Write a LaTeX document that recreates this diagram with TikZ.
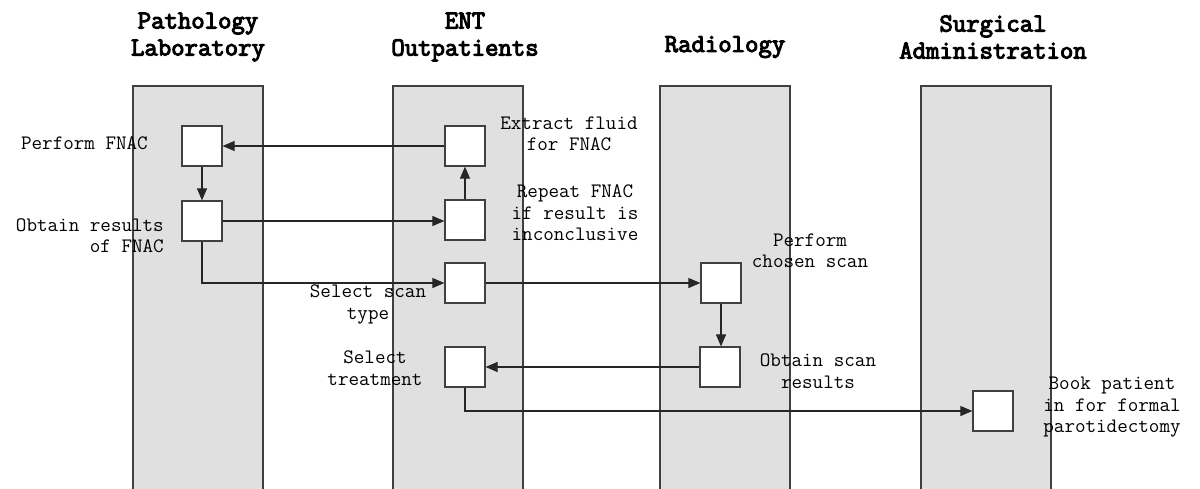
\documentclass[tikz,border=0pt]{standalone}
\usepackage{fontspec}
\newfontfamily\hdrfont[FakeBold=4]{Latin Modern Mono}
\usetikzlibrary{arrows.meta}
\definecolor{lanefill}{HTML}{E0E0E0}
\definecolor{laneline}{HTML}{404040}
\begin{document}
\begin{tikzpicture}[x=1pt,y=-1pt,
  lane/.style={draw=laneline,fill=lanefill,line width=1.2pt},
  act/.style={draw=laneline,fill=white,line width=1.2pt,minimum width=40pt,minimum height=40pt,inner sep=0pt},
  lbl/.style={font=\ttfamily\fontsize{20.5}{21.5}\selectfont,inner sep=0pt,align=center},
  hdr/.style={font=\hdrfont\fontsize{26}{27}\selectfont,inner sep=0pt,align=center},
  flow/.style={line width=1.1pt,draw=black!85,-{Triangle[length=12pt,width=10pt]}},
  link/.style={line width=1.1pt,draw=black!85}]
\useasboundingbox (0,0) rectangle (1200,488);
% lanes
\path[lane] (133,86) rectangle (263,495);
\path[lane] (393,86) rectangle (523,495);
\path[lane] (660,86) rectangle (790,495);
\path[lane] (921,86) rectangle (1051,495);
% headers
\node[hdr] (h1) at (198,37) {Pathology\\Laboratory};
\node[hdr] (h2) at (465,37) {ENT\\Outpatients};
\node[hdr] (h3) at (725,47) {Radiology};
\node[hdr] (h4) at (993,37) {Surgical\\Administration};
% activities
\node[act] (pf) at (202,146) {};
\node[act] (or) at (202,221) {};
\node[act] (ex) at (465,146) {};
\node[act] (rp) at (465,220) {};
\node[act] (ss) at (465,283) {};
\node[act] (st) at (465,367) {};
\node[act] (ps) at (721,283) {};
\node[act] (os) at (720,367) {};
\node[act] (bk) at (993,411) {};
% labels
\node[lbl,anchor=east] (lpf) at (148,143) {Perform FNAC};
\node[lbl,align=right,anchor=east] (lor) at (164,235.5) {Obtain results\\of FNAC};
\node[lbl] (lex) at (569,134) {Extract fluid\\for FNAC};
\node[lbl] (lrp) at (575,213) {Repeat FNAC\\if result is\\inconclusive};
\node[lbl] (lss) at (368,304.5) {Select scan\\type};
\node[lbl] (lst) at (375,368) {Select\\treatment};
\node[lbl] (lps) at (810,250.5) {Perform\\chosen scan};
\node[lbl] (los) at (818,371) {Obtain scan\\results};
\node[lbl] (lbk) at (1112,407.5) {Book patient\\in for formal\\parotidectomy};
% connectors
\draw[flow] (ex.west) -- (pf.east);
\draw[flow] (pf.south) -- (or.north);
\draw[flow] (or.east) -- (rp.west |- or.east);
\draw[flow] (rp.north) -- (ex.south);
\draw[flow] (or.south) |- (ss.west);
\draw[flow] (ss.east) -- (ps.west);
\draw[flow] (ps.south) -- (ps.south |- os.north);
\draw[flow] (os.west) -- (st.east);
\draw[flow] (st.south) |- (bk.west);
\end{tikzpicture}
\end{document}
